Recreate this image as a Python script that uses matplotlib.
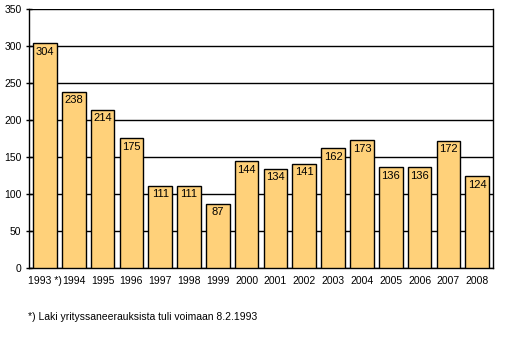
import matplotlib
matplotlib.use("Agg")
import matplotlib.pyplot as plt

years = ["1993 *)", "1994", "1995", "1996", "1997", "1998", "1999", "2000",
         "2001", "2002", "2003", "2004", "2005", "2006", "2007", "2008"]
values = [304, 238, 214, 175, 111, 111, 87, 144, 134, 141, 162, 173, 136, 136, 172, 124]
yticks = [0, 50, 100, 150, 200, 250, 300, 350]

plt.rcParams['font.family'] = ['Liberation Sans', 'DejaVu Sans']

fig = plt.figure(figsize=(5.19, 3.54), dpi=100)
ax = fig.add_axes([0.056, 0.243, 0.894, 0.732])

x = list(range(len(values)))
ax.bar(x, values, width=0.82, color='#FFD17A', edgecolor='black', linewidth=1.0, zorder=3)
for xi, v in zip(x, values):
    ax.text(xi, v - 5, str(v), ha='center', va='top', fontsize=8, zorder=4)

ax.set_xlim(-0.55, len(values) - 0.45)
ax.set_ylim(0, 350)
ax.set_yticks(yticks)
ax.yaxis.grid(True, color='black', linewidth=1.0, zorder=0)
ax.set_xticks(x)
ax.set_xticklabels(years, fontsize=7.5)
ax.tick_params(axis='x', length=0, pad=6)
ax.tick_params(axis='y', labelsize=7.5, length=4, direction='inout', width=1.0)
for s in ax.spines.values():
    s.set_linewidth(1.0)
ax.spines['top'].set_visible(False)

fig.text(0.054, 0.095, "*) Laki yrityssaneerauksista tuli voimaan 8.2.1993", fontsize=7.5)

fig.savefig("out.png", dpi=100)
